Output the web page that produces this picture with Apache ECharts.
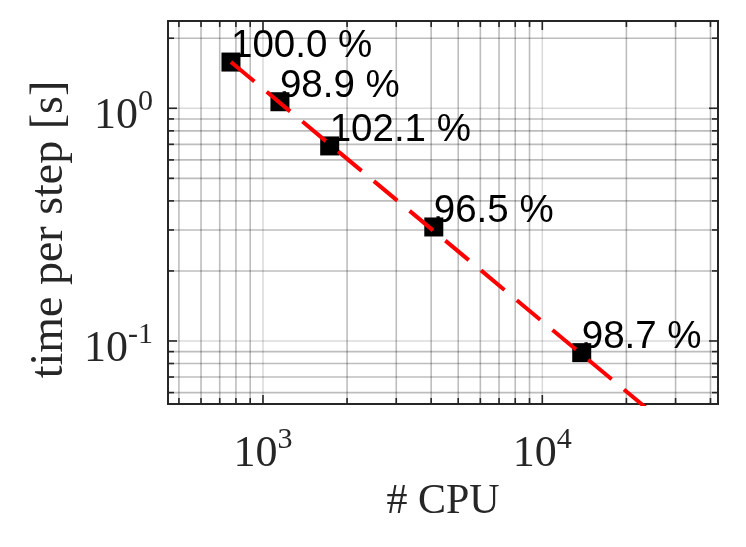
<!DOCTYPE html>
<html>
<head>
<meta charset="utf-8">
<script src="https://cdn.jsdelivr.net/npm/echarts@6/dist/echarts.min.js"></script>
<style>
html,body{margin:0;padding:0;background:#fff;}
#chart{width:746px;height:547px;}
</style>
</head>
<body>
<div id="chart"></div>
<script>
// ---- data ----
var cpus = [768, 1150, 1733, 4088, 13840];
var timePerStep = [1.58, 1.067, 0.689, 0.309, 0.0891];
var efficiencyLabels = ['100.0 %', '98.9 %', '102.1 %', '96.5 %', '98.7 %'];
// ideal-scaling reference line (from the first point)
var idealCpus = [768, 30000];
var idealTimes = [1.58, 1.58 * 768 / 30000];
// axis ranges and grid/tick values
var xRange = [457, 42560];
var yRange = [0.0536, 2.372];
var xGridValues = [500, 600, 700, 800, 900, 1000, 2000, 3000, 4000, 5000, 6000, 7000, 8000, 9000, 10000, 20000, 30000, 40000];
var yGridValues = [0.06, 0.07, 0.08, 0.09, 0.1, 0.2, 0.3, 0.4, 0.5, 0.6, 0.7, 0.8, 0.9, 1, 2];
var xName = '# CPU';
var yName = 'time per step [s]';

var BASE_FS = 44, SUP_FS = 30;
function isPow10(v) {
  var e = Math.log10(v);
  return Math.abs(e - Math.round(e)) < 1e-6;
}
function supWidth(e) {
  var s = String(e), w = 0;
  for (var i = 0; i < s.length; i++) w += (s[i] === '-' ? 0.333 : 0.5) * SUP_FS;
  return w;
}
var richLabel = {
  s: {fontFamily: 'Liberation Serif', fontSize: SUP_FS, lineHeight: 6, align: 'right', color: '#262626'}
};
for (var ex = -3; ex <= 6; ex++) {
  richLabel['b' + (ex + 3)] = {
    fontFamily: 'Liberation Serif', fontSize: BASE_FS, lineHeight: 22,
    width: BASE_FS + supWidth(ex), align: 'left', color: '#262626'
  };
}
function powLabel(v) {
  if (!isPow10(v)) return '';
  var e = Math.round(Math.log10(v));
  return '{s|' + e + '}\n{b' + (e + 3) + '|10}';
}

var minorColor = 'rgba(0,0,0,0.26)';
var majorColor = 'rgba(0,0,0,0.14)';
var tickColor = '#262626';

function gridRender(isX) {
  return function (params, api) {
    var v = api.value(isX ? 0 : 1);
    var cs = params.coordSys;
    var major = isPow10(v);
    var p = api.coord(isX ? [v, yRange[0]] : [xRange[0], v]);
    var len = major ? 9 : 6;
    var children = [];
    var lineStyle = {stroke: major ? majorColor : minorColor, lineWidth: 1.6};
    var tickStyle = {stroke: tickColor, lineWidth: 1.6};
    if (isX) {
      var x = p[0];
      children.push({type: 'line', shape: {x1: x, y1: cs.y, x2: x, y2: cs.y + cs.height}, style: lineStyle});
      children.push({type: 'line', shape: {x1: x, y1: cs.y + cs.height, x2: x, y2: cs.y + cs.height - len}, style: tickStyle});
      children.push({type: 'line', shape: {x1: x, y1: cs.y, x2: x, y2: cs.y + len}, style: tickStyle});
    } else {
      var y = p[1];
      children.push({type: 'line', shape: {x1: cs.x, y1: y, x2: cs.x + cs.width, y2: y}, style: lineStyle});
      children.push({type: 'line', shape: {x1: cs.x, y1: y, x2: cs.x + len, y2: y}, style: tickStyle});
      children.push({type: 'line', shape: {x1: cs.x + cs.width, y1: y, x2: cs.x + cs.width - len, y2: y}, style: tickStyle});
    }
    return {type: 'group', children: children};
  };
}

var chart = echarts.init(document.getElementById('chart'), null, {renderer: 'canvas'});
chart.setOption({
  animation: false,
  backgroundColor: '#ffffff',
  grid: {
    left: 168, top: 21, right: 28, bottom: 143,
    show: true, borderColor: '#262626', borderWidth: 2, backgroundColor: 'transparent'
  },
  xAxis: {
    type: 'log', logBase: 10, min: xRange[0], max: xRange[1],
    axisLine: {show: false}, axisTick: {show: false}, splitLine: {show: false}, minorTick: {show: false},
    axisLabel: {formatter: powLabel, rich: richLabel, margin: 33, showMinLabel: false, showMaxLabel: false},
    name: xName, nameLocation: 'middle', nameGap: 76,
    nameTextStyle: {fontFamily: 'Liberation Serif', fontSize: 42, color: '#262626'}
  },
  yAxis: {
    type: 'log', logBase: 10, min: yRange[0], max: yRange[1],
    axisLine: {show: false}, axisTick: {show: false}, splitLine: {show: false}, minorTick: {show: false},
    axisLabel: {formatter: powLabel, rich: richLabel, margin: 15, padding: [10, 0, 0, 0], showMinLabel: false, showMaxLabel: false},
    name: yName, nameLocation: 'middle', nameGap: 87,
    nameTextStyle: {fontFamily: 'Liberation Serif', fontSize: 46, color: '#262626', padding: [0, 34, 0, 0]}
  },
  series: [
    {
      type: 'custom', z: 1, silent: true, clip: false,
      renderItem: gridRender(true),
      data: xGridValues.map(function (v) { return [v, yRange[0]]; })
    },
    {
      type: 'custom', z: 1, silent: true, clip: false,
      renderItem: gridRender(false),
      data: yGridValues.map(function (v) { return [xRange[0], v]; })
    },
    {
      type: 'scatter', z: 3, silent: true,
      symbol: 'rect', symbolSize: 19,
      itemStyle: {color: '#000000', opacity: 1},
      label: {
        show: true, position: [9.5, -6], align: 'left', verticalAlign: 'middle',
        fontFamily: 'Liberation Sans', fontSize: 38.5, color: '#000000', opacity: 1,
        formatter: function (p) { return efficiencyLabels[p.dataIndex]; }
      },
      data: cpus.map(function (c, i) { return [c, timePerStep[i]]; })
    },
    {
      type: 'line', z: 4, silent: true, clip: true,
      symbol: 'none',
      lineStyle: {color: '#ff0000', width: 4, type: [30.5, 16], opacity: 1},
      data: idealCpus.map(function (c, i) { return [c, idealTimes[i]]; })
    }
  ]
});
</script>
</body>
</html>
